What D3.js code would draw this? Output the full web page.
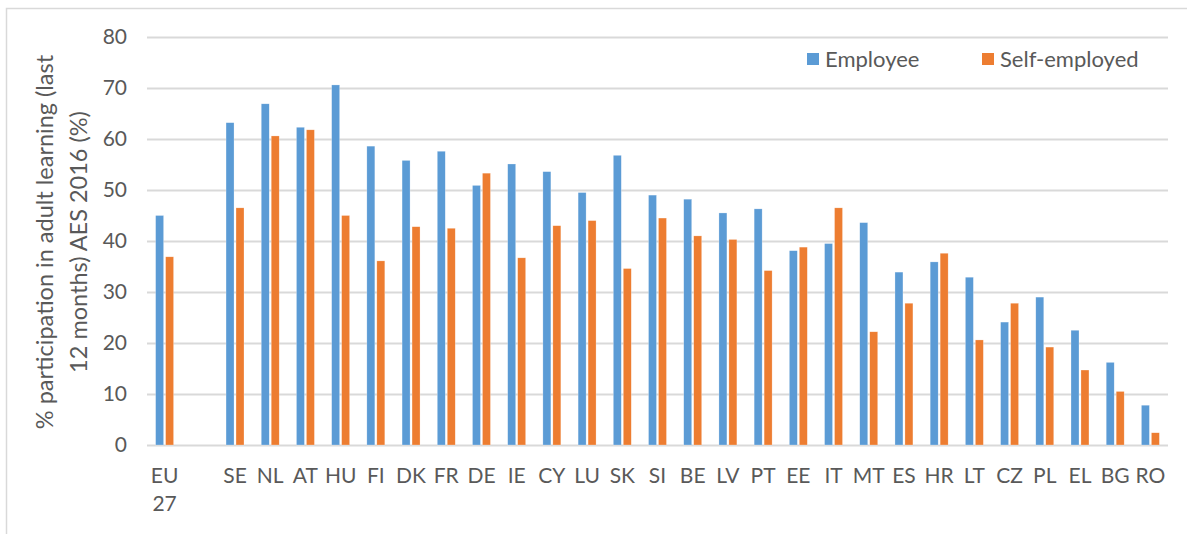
<!DOCTYPE html>
<html>
<head>
<meta charset="utf-8">
<script src="https://cdn.jsdelivr.net/npm/d3@7"></script>
<style>
  body { margin: 0; background: #fff; }
  text { font-family: Lato, "Liberation Sans", sans-serif; fill: #595959; }
</style>
</head>
<body>
<div id="chart"></div>
<script>
// countries (blank slot after EU 27 keeps the gap)
const countries = ["EU 27", "", "SE", "NL", "AT", "HU", "FI", "DK", "FR", "DE", "IE", "CY", "LU", "SK", "SI",
    "BE", "LV", "PT", "EE", "IT", "MT", "ES", "HR", "LT", "CZ", "PL", "EL", "BG", "RO"];
const employee = [45.0, null, 63.2, 66.9, 62.3, 70.6, 58.6, 55.8, 57.6, 50.9, 55.1, 53.6, 49.5, 56.8, 49.0,
    48.2, 45.5, 46.3, 38.1, 39.5, 43.6, 33.9, 35.9, 32.9, 24.1, 29.0, 22.5, 16.2, 7.8];
const selfEmployed = [36.9, null, 46.5, 60.6, 61.8, 45.0, 36.1, 42.8, 42.5, 53.3, 36.7, 43.0, 44.0, 34.6, 44.5,
    41.0, 40.3, 34.2, 38.8, 46.5, 22.2, 27.8, 37.6, 20.6, 27.8, 19.2, 14.7, 10.5, 2.4];
const yTicks = [0, 10, 20, 30, 40, 50, 60, 70, 80];
const seriesNames = ["Employee", "Self-employed"];
const colors = ["#5b9bd5", "#ed7d31"];

const W = 1187, H = 534;
const margin = {top: 37, right: 19, bottom: 89, left: 147},
    width = W - margin.left - margin.right,
    height = H - margin.top - margin.bottom;

const svg = d3.select("#chart").append("svg")
    .attr("width", W).attr("height", H);

// outer frame
svg.append("rect")
    .attr("x", 6.5).attr("y", 8.5)
    .attr("width", 1300).attr("height", 700)
    .attr("fill", "none").attr("stroke", "#d9d9d9").attr("stroke-width", 1.5);

const g = svg.append("g")
    .attr("transform", "translate(" + margin.left + "," + margin.top + ")");

// keys so the blank slot is unique
const keys = countries.map((c, i) => i + "|" + c);

const x0 = d3.scaleBand().domain(keys).range([0, width]).paddingInner(0.49).paddingOuter(0.245);
const x1 = d3.scaleBand().domain(seriesNames).range([0, x0.bandwidth()]).paddingInner(0.2);
const y = d3.scaleLinear().domain([0, 80]).range([height, 0]);

// gridlines + y labels
const yAxis = g.append("g")
    .call(d3.axisLeft(y).tickValues(yTicks).tickSize(-width).tickPadding(20));
yAxis.select(".domain").remove();
yAxis.selectAll(".tick line").attr("stroke", "#d9d9d9").attr("stroke-width", 2);
yAxis.selectAll(".tick text").style("font-size", "21px").attr("fill", "#595959");

// bars
const rows = keys.map((k, i) => ({key: k, vals: [employee[i], selfEmployed[i]]}));
const groups = g.selectAll(".grp").data(rows).enter().append("g")
    .attr("transform", d => "translate(" + x0(d.key) + ",0)");
groups.selectAll("rect")
    .data(d => d.vals.map((v, j) => ({name: seriesNames[j], v: v, c: colors[j]})).filter(e => e.v !== null))
    .enter().append("rect")
    .attr("x", d => x1(d.name))
    .attr("width", x1.bandwidth())
    .attr("y", d => y(d.v))
    .attr("height", d => height - y(d.v))
    .attr("fill", d => d.c)
    .attr("stroke", "#fff").attr("stroke-opacity", 0.5).attr("stroke-width", 0.5);

// x labels
const xAxis = g.append("g")
    .attr("transform", "translate(0," + height + ")")
    .call(d3.axisBottom(x0).tickSize(0).tickFormat(""));
xAxis.select(".domain").remove();
xAxis.selectAll(".tick").each(function (k) {
    const label = k.split("|")[1];
    const t = d3.select(this).append("text")
        .attr("text-anchor", "middle")
        .style("font-size", "21px");
    label.split(" ").forEach((part, i) => {
        t.append("tspan").attr("x", 0).attr("y", 38 + i * 28).text(part);
    });
});

// y axis title
const title = svg.append("text")
    .attr("transform", "translate(0,242) rotate(-90)")
    .attr("text-anchor", "middle")
    .style("font-size", "23.5px");
title.append("tspan").attr("x", 0).attr("y", 53).text("% participation in adult learning (last");
title.append("tspan").attr("x", 0).attr("y", 87).text("12 months) AES 2016 (%)");

// legend
const legendX = [807, 982];
const legend = svg.append("g");
seriesNames.forEach((n, i) => {
    legend.append("rect").attr("x", legendX[i]).attr("y", 53).attr("width", 12).attr("height", 12).attr("fill", colors[i]);
    legend.append("text").attr("x", legendX[i] + 18).attr("y", 67).style("font-size", "22px").text(n);
});
</script>
</body>
</html>
